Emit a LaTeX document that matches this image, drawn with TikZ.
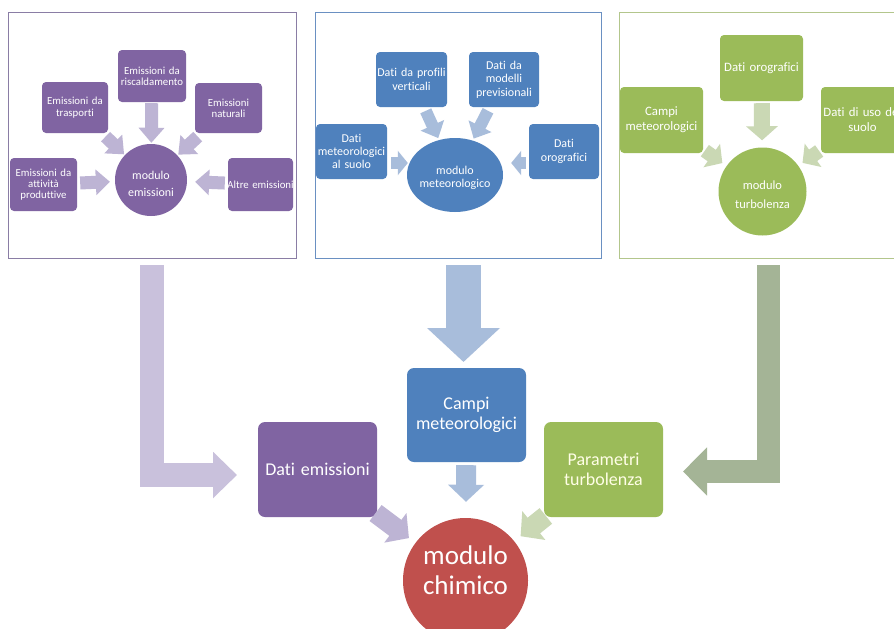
\documentclass[tikz,border=0pt]{standalone}
\usepackage{fontspec}
\setmainfont{Carlito}[Ligatures=NoCommon]
\usetikzlibrary{arrows.meta,shapes.geometric,calc}
\definecolor{cpur}{HTML}{8064A2}
\definecolor{cblu}{HTML}{4F81BD}
\definecolor{cgrn}{HTML}{9BBB59}
\definecolor{cred}{HTML}{C0504D}
\definecolor{apur}{HTML}{BDB4D4}
\definecolor{ablu}{HTML}{A8BDDB}
\definecolor{agrn}{HTML}{CAD8B4}
\definecolor{Lpur}{HTML}{C9C1DC}
\definecolor{Lgrn}{HTML}{A4B496}
\definecolor{bpur}{HTML}{8A7DA5}
\definecolor{bblu}{HTML}{6A90C2}
\definecolor{bgrn}{HTML}{B3C68C}
\tikzset{
  pbox/.style n args={3}{rectangle, rounded corners=4pt, fill=#1, text=white,
    minimum width=#2, minimum height=#3, text width=#2, inner sep=0pt, align=center},
  bbox/.style={rectangle, rounded corners=7pt, minimum width=119pt, minimum height=95pt,
    text width=117pt, inner sep=0pt, align=center, text=white,
    font=\fontsize{18}{20.5}\selectfont},
  blk/.style n args={4}{draw=#1, line width=#2, line cap=butt, line join=miter,
    -{Triangle[width=#3,length=#4]}},
  f1/.style={font=\fontsize{10.8}{11.3}\selectfont},
  f2/.style={font=\fontsize{12}{13.4}\selectfont},
  f3/.style={font=\fontsize{12.8}{15}\selectfont},
}
\begin{document}
\begin{tikzpicture}[x=1pt,y=-1pt]
\useasboundingbox (0,0) rectangle (894,629);
\clip (0,0) rectangle (894,629);
\fill[white] (0,0) rectangle (894,629);

% panel frames
\draw[bpur, line width=0.8pt] (8,12) rectangle (296,258);
\draw[bblu, line width=0.8pt] (315,12) rectangle (601,258);
\draw[bgrn, line width=0.8pt] (619,12) rectangle (900,258);

% ---- panel 1
\node[pbox={cpur}{68pt}{52pt}, f1] (risc) at (152,76) {Emissioni da\\riscaldamento};
\node[pbox={cpur}{66pt}{51pt}, f1] (tras) at (75,107.5) {Emissioni da\\trasporti};
\node[pbox={cpur}{67pt}{50pt}, f1] (nat) at (228.5,108) {Emissioni\\naturali};
\node[pbox={cpur}{67pt}{53pt}, f1] (att) at (43.5,184.5) {Emissioni da\\attività\\produttive};
\node[pbox={cpur}{65pt}{53pt}, f1] (altre) at (260.5,184.5) {\makebox[0pt]{Altre emissioni}};
\node[circle, fill=cpur, minimum size=72pt, inner sep=0pt] (emi) at (151,180) {};
\node[text=white, align=center, font=\fontsize{12}{17}\selectfont] at ([yshift=-4pt]emi.center) {modulo\\emissioni};
\draw[blk={apur}{13pt}{25pt}{15pt}, shorten <=1pt, shorten >=1pt] (risc) -- (emi);
\draw[blk={apur}{13pt}{25pt}{15pt}, shorten <=5pt, shorten >=1pt] (tras) -- (emi);
\draw[blk={apur}{13pt}{25pt}{15pt}, shorten <=5pt, shorten >=1pt] (nat) -- (emi);
\draw[blk={apur}{13pt}{25pt}{14pt}, shorten <=3pt, shorten >=5pt] (att) -- (emi);
\draw[blk={apur}{13pt}{25pt}{14pt}, shorten <=3pt, shorten >=8pt] (altre) -- (emi);

% ---- panel 2
\node[pbox={cblu}{71pt}{55pt}, f2] (prof) at (411.5,79.5) {Dati da profili\\verticali};
\node[pbox={cblu}{70pt}{55pt}, f2] (mod) at (504,79.5) {Dati da\\modelli\\previsionali};
\node[pbox={cblu}{71pt}{55pt}, f2] (suolo) at (351.5,151.5) {Dati\\meteorologici\\al suolo};
\node[pbox={cblu}{70pt}{55pt}, f2] (orog2) at (564,151.5) {Dati\\orografici};
\node[ellipse, fill=cblu, minimum width=96pt, minimum height=74pt, inner sep=0pt] (ell) at (455,175) {};
\node[text=white, align=center, f2] at ([yshift=-3pt]ell.center) {modulo\\meteorologico};
\draw[blk={ablu}{12pt}{25pt}{14pt}, shorten <=4pt, shorten >=2pt] (prof) -- (ell);
\draw[blk={ablu}{12pt}{25pt}{14pt}, shorten <=4pt, shorten >=2pt] (mod) -- (ell);
\draw[blk={ablu}{12pt}{24pt}{10pt}] ($(suolo.east)+(4,11.5)$) -- ($(ell.west)+(1,-12)$);
\draw[blk={ablu}{12pt}{24pt}{10pt}] ($(orog2.west)+(-3,11.5)$) -- ($(ell.east)+(8,-12)$);

% ---- panel 3
\node[pbox={cgrn}{83pt}{66pt}, f3] (orog3) at (761.5,68) {Dati orografici};
\node[pbox={cgrn}{83pt}{66pt}, f3] (campi3) at (661.5,120) {Campi\\meteorologici};
\node[pbox={cgrn}{83pt}{66pt}, f3] (uso) at (862.5,120) {Dati di uso del\\suolo};
\node[circle, fill=cgrn, minimum size=88pt, inner sep=0pt] (turb) at (762.5,191.5) {};
\node[text=white, align=center, font=\fontsize{12.5}{19}\selectfont] at ([yshift=-3pt]turb.center) {modulo\\turbolenza};
\draw[blk={agrn}{16pt}{31pt}{14pt}, shorten <=2pt, shorten >=7pt] (orog3) -- (turb);
\draw[blk={agrn}{14pt}{28pt}{13pt}, shorten <=2pt, shorten >=5pt] (campi3) -- (turb);
\draw[blk={agrn}{14pt}{28pt}{13pt}, shorten <=2pt, shorten >=5pt] (uso) -- (turb);

% ---- bottom
\node[bbox, fill=cpur] (demi) at (317.5,469.5) {Dati emissioni};
\node[bbox, fill=cblu, minimum height=94pt] (campi) at (466.5,415) {Campi\\meteorologici};
\node[bbox, fill=cgrn, text=white!90!yellow] (param) at (603.5,469.5) {Parametri\\turbolenza};
\node[circle, fill=cred, minimum size=125pt, inner sep=0pt] (chim) at (465.5,580.5) {};
\node[text=white, align=center, font=\fontsize{27}{30}\selectfont] at ([yshift=10pt]chim.center) {modulo\\chimico};

% big connectors from panels
\coordinate (p1s) at (151.5,265);
\coordinate (p1c) at (151.5,475);
\coordinate (p1e) at (237,475);
\draw[blk={Lpur}{24pt}{45pt}{24pt}] (p1s) -- (p1c) -- (p1e);

\coordinate (p2s) at (463.5,265);
\coordinate (p2e) at (463.5,362);
\draw[blk={ablu}{35pt}{71pt}{34pt}] (p2s) -- (p2e);

\coordinate (p3s) at (768.5,265);
\coordinate (p3c) at (768.5,471.5);
\coordinate (p3e) at (683,471.5);
\draw[blk={Lgrn}{23pt}{47pt}{24pt}] (p3s) -- (p3c) -- (p3e);

% into modulo chimico
\draw[blk={ablu}{20pt}{35pt}{17pt}, shorten <=3pt, shorten >=16pt] (campi) -- (chim);
\draw[blk={apur}{20pt}{36pt}{17pt}, shorten <=-2pt, shorten >=8pt] (demi) -- (chim);
\draw[blk={agrn}{20pt}{36pt}{17pt}, shorten <=-2pt, shorten >=8pt] (param) -- (chim);
\end{tikzpicture}
\end{document}
